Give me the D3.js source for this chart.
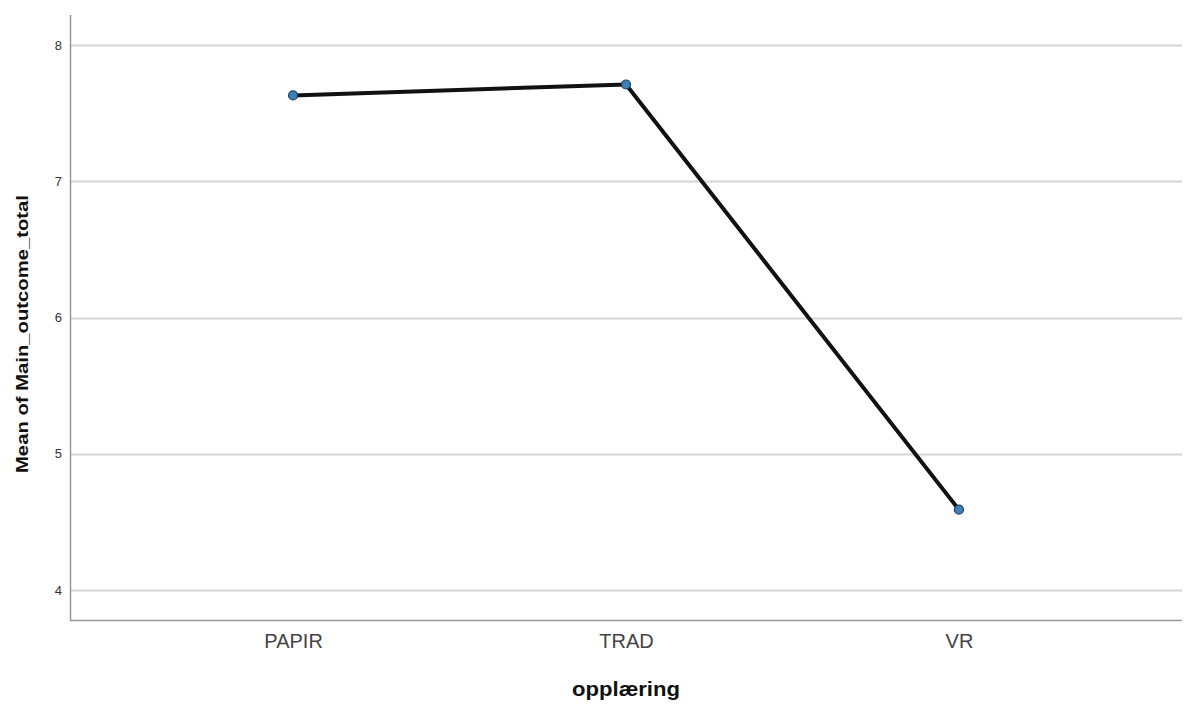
<!DOCTYPE html>
<html>
<head>
<meta charset="utf-8">
<script src="https://cdn.jsdelivr.net/npm/d3@7"></script>
<style>
  body { margin: 0; background: #fff; }
  text { font-family: "Liberation Sans", Arial, sans-serif; }
</style>
</head>
<body>
<script>
// categories and means
var categories = ["PAPIR", "TRAD", "VR"];
var means = [7.63, 7.71, 4.59];
var yTicks = [4, 5, 6, 7, 8];

var W = 1186, H = 709;
var mLeft = 70, mRight = 1182, mTop = 15, mBottom = 620;

var svg = d3.select("body").append("svg")
    .attr("width", W)
    .attr("height", H);

var x = d3.scalePoint()
    .domain(categories)
    .range([mLeft, mRight])
    .padding(0.67);

var y = d3.scaleLinear()
    .domain([3.78, 8.22])
    .range([mBottom, mTop]);

// gridlines
svg.append("g")
    .selectAll("line")
    .data(yTicks)
  .enter().append("line")
    .attr("x1", mLeft)
    .attr("x2", mRight)
    .attr("y1", function(d) { return Math.round(y(d)) + .5; })
    .attr("y2", function(d) { return Math.round(y(d)) + .5; })
    .attr("stroke", "#d4d4d4")
    .attr("stroke-width", 2);

// y axis
var yAxis = d3.axisLeft(y).tickValues(yTicks).tickFormat(d3.format("d")).tickSize(0).tickPadding(8);
var gy = svg.append("g")
    .attr("transform", "translate(" + mLeft + ",0)")
    .call(yAxis);
gy.select(".domain").remove();
gy.selectAll("text")
    .attr("font-size", 13)
    .attr("fill", "#333");

// x axis
var xAxis = d3.axisBottom(x).tickSize(0).tickPadding(14);
var gx = svg.append("g")
    .attr("transform", "translate(0," + mBottom + ")")
    .call(xAxis);
gx.select(".domain").remove();
gx.selectAll("text")
    .attr("font-size", 20)
    .attr("fill", "#444");

// axis frame lines
svg.append("line")
    .attr("x1", mLeft + .5).attr("x2", mLeft + .5)
    .attr("y1", mTop).attr("y2", mBottom + 1)
    .attr("stroke", "#999").attr("stroke-width", 1.5);
svg.append("line")
    .attr("x1", mLeft).attr("x2", mRight)
    .attr("y1", mBottom + .5).attr("y2", mBottom + .5)
    .attr("stroke", "#999").attr("stroke-width", 1.5);

// mean line
var pts = categories.map(function(c, i) { return [x(c), y(means[i])]; });
svg.append("path")
    .datum(pts)
    .attr("d", d3.line())
    .attr("fill", "none")
    .attr("stroke", "#111")
    .attr("stroke-width", 4)
    .attr("stroke-linejoin", "round");

svg.append("g")
    .selectAll("circle")
    .data(pts)
  .enter().append("circle")
    .attr("cx", function(d) { return d[0]; })
    .attr("cy", function(d) { return d[1]; })
    .attr("r", 4.5)
    .attr("fill", "#3f7fb8")
    .attr("stroke", "#1d3d5c")
    .attr("stroke-width", 1.2);

// titles
svg.append("text")
    .attr("transform", "translate(28," + 334 + ") rotate(-90)")
    .attr("text-anchor", "middle")
    .attr("font-size", 17)
    .attr("font-weight", "bold")
    .attr("fill", "#111")
    .attr("textLength", 278)
    .attr("lengthAdjust", "spacingAndGlyphs")
    .text("Mean of Main_outcome_total");

svg.append("text")
    .attr("x", x("TRAD"))
    .attr("y", 696)
    .attr("text-anchor", "middle")
    .attr("font-size", 20)
    .attr("font-weight", "bold")
    .attr("fill", "#111")
    .attr("textLength", 108)
    .attr("lengthAdjust", "spacingAndGlyphs")
    .text("opplæring");
</script>
</body>
</html>
